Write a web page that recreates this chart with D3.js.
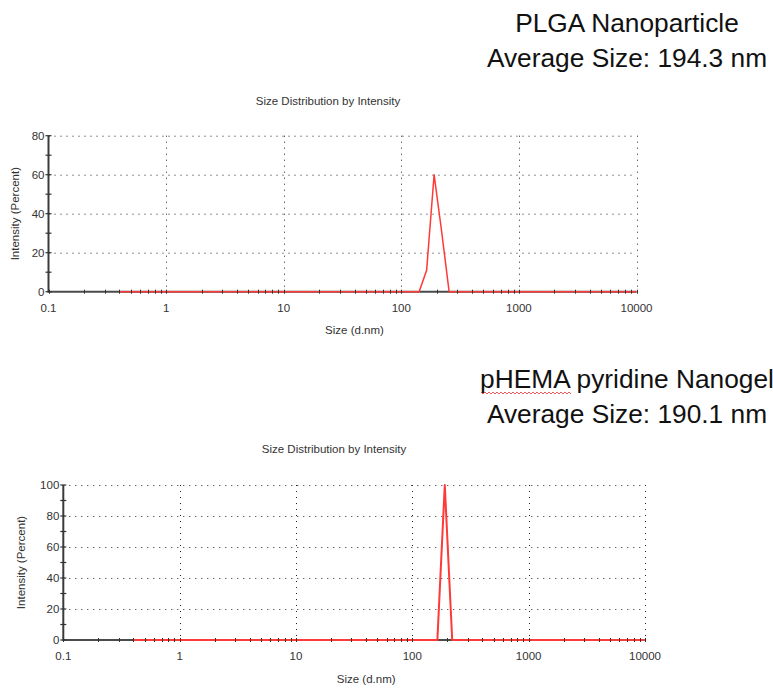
<!DOCTYPE html>
<html>
<head>
<meta charset="utf-8">
<script src="https://cdn.jsdelivr.net/npm/d3@7"></script>
<style>
  html, body { margin: 0; padding: 0; background: #fff; }
  svg { display: block; font-family: "Liberation Sans", Arial, sans-serif; }
</style>
</head>
<body>
<svg id="chart" width="773" height="688"></svg>
<script>
// ---- data ----
const xTickValues = [0.1, 1, 10, 100, 1000, 10000];
const xTickLabels = ["0.1", "1", "10", "100", "1000", "10000"];

const topTitleLines = ["PLGA Nanoparticle", "Average Size: 194.3 nm"];
const topSizes = [0.4, 141.8, 164.2, 190.1, 220.2, 255.0, 10000];
const topIntensity = [0, 0, 11, 60, 31, 0, 0];
const topYTicks = [0, 20, 40, 60, 80];
const topYMinor = [10, 30, 50, 70];

const botTitleLines = ["pHEMA pyridine Nanogel", "Average Size: 190.1 nm"];
const botSizes = [0.4, 164.2, 190.1, 220.2, 10000];
const botIntensity = [0, 0, 100, 0, 0];
const botYTicks = [0, 20, 40, 60, 80, 100];
const botYMinor = [10, 30, 50, 70, 90];

const chartTitle = "Size Distribution by Intensity";
const xAxisLabel = "Size (d.nm)";
const yAxisLabel = "Intensity (Percent)";

// ---- drawing ----
const svg = d3.select("#chart");

function minorXTicks() {
  const out = [];
  for (let e = -1; e < 4; e++) {
    for (let m = 2; m <= 9; m++) out.push(m * Math.pow(10, e));
  }
  return out;
}

function drawChart(cfg) {
  const g = svg.append("g");
  const x = d3.scaleLog().domain([0.1, 10000]).range([cfg.x0, cfg.x1]);
  const y = d3.scaleLinear().domain([0, cfg.yMax]).range([cfg.y0, cfg.y1]);

  // dotted grid lines
  g.selectAll("line.hgrid").data(cfg.yTicks.filter(d => d > 0)).enter().append("line")
    .attr("x1", cfg.x0).attr("x2", cfg.x1)
    .attr("y1", d => y(d) + 0.5).attr("y2", d => y(d) + 0.5)
    .attr("stroke", "#222").attr("stroke-width", 1)
    .attr("stroke-dasharray", "1,5");
  g.selectAll("line.vgrid").data(xTickValues.filter(d => d > 0.1)).enter().append("line")
    .attr("x1", d => Math.round(x(d)) + 0.5).attr("x2", d => Math.round(x(d)) + 0.5)
    .attr("y1", cfg.y1).attr("y2", cfg.y0)
    .attr("stroke", "#222").attr("stroke-width", 1)
    .attr("stroke-dasharray", "1,5");

  // axis lines
  g.append("line").attr("x1", cfg.x0).attr("x2", cfg.x1).attr("y1", cfg.y0).attr("y2", cfg.y0)
    .attr("stroke", "#4a4a4a").attr("stroke-width", 2);
  g.append("line").attr("x1", cfg.x0).attr("x2", cfg.x0).attr("y1", cfg.y0 + 1).attr("y2", cfg.y1)
    .attr("stroke", "#3a3a3a").attr("stroke-width", 2);

  // y ticks (major + minor)
  g.selectAll("line.ytick").data(cfg.yTicks.concat(cfg.yMinor)).enter().append("line")
    .attr("x1", cfg.x0 - 3).attr("x2", cfg.x0 + 3)
    .attr("y1", d => y(d)).attr("y2", d => y(d))
    .attr("stroke", "#333").attr("stroke-width", 1.2);
  g.selectAll("text.ylab").data(cfg.yTicks).enter().append("text")
    .attr("x", cfg.x0 - 4).attr("y", d => y(d) + 4)
    .attr("text-anchor", "end").attr("font-size", 11.5).attr("fill", "#333")
    .text(d => d);

  // x tick labels
  g.selectAll("text.xlab").data(xTickValues).enter().append("text")
    .attr("x", d => x(d)).attr("y", cfg.y0 + 20)
    .attr("text-anchor", "middle").attr("font-size", 11.5).attr("fill", "#333")
    .text((d, i) => xTickLabels[i]);

  // data line
  const pts = cfg.sizes.map((s, i) => [s, cfg.values[i]]);
  g.append("path").datum(pts)
    .attr("d", d3.line().x(d => x(d[0])).y(d => y(d[1])))
    .attr("fill", "none").attr("stroke", "#ff3838").attr("stroke-width", cfg.lineW)
    .attr("stroke-linejoin", "round");

  // x ticks (drawn over line)
  g.selectAll("line.xtick").data(xTickValues.concat(minorXTicks())).enter().append("line")
    .attr("x1", d => Math.round(x(d)) + 0.5).attr("x2", d => Math.round(x(d)) + 0.5)
    .attr("y1", cfg.y0 - 2).attr("y2", cfg.y0 + 2)
    .attr("stroke", "#333").attr("stroke-width", 1);

  // titles and axis labels
  g.append("text").attr("x", cfg.titleX).attr("y", cfg.titleY)
    .attr("text-anchor", "middle").attr("font-size", 11.5).attr("fill", "#333")
    .text(chartTitle);
  g.append("text").attr("x", (cfg.x0 + cfg.x1) / 2 + 12).attr("y", cfg.xlabY)
    .attr("text-anchor", "middle").attr("font-size", 11.5).attr("fill", "#333")
    .text(xAxisLabel);
  g.append("text")
    .attr("transform", `translate(${cfg.ylabX},${(cfg.y0 + cfg.y1) / 2}) rotate(-90)`)
    .attr("text-anchor", "middle").attr("font-size", 11.5).attr("fill", "#333")
    .text(yAxisLabel);

  // big heading
  cfg.heading.forEach((t, i) => {
    svg.append("text").attr("x", 627).attr("y", cfg.headY[i])
      .attr("text-anchor", "middle").attr("font-size", 26.3).attr("fill", "#111")
      .text(t);
  });
}

drawChart({
  x0: 48.5, x1: 636.5, y0: 291.7, y1: 135.7, yMax: 80,
  yTicks: topYTicks, yMinor: topYMinor,
  sizes: topSizes, values: topIntensity, lineW: 1.5,
  titleX: 328, titleY: 105, xlabY: 334, ylabX: 19,
  heading: topTitleLines, headY: [32, 67]
});

drawChart({
  x0: 63.3, x1: 645, y0: 640, y1: 485, yMax: 100,
  yTicks: botYTicks, yMinor: botYMinor,
  sizes: botSizes, values: botIntensity, lineW: 2,
  titleX: 334, titleY: 453, xlabY: 683, ylabX: 25,
  heading: botTitleLines, headY: [388, 423]
});

// spell-check squiggle under "pHEMA"
(function () {
  let d = "M481,392";
  for (let xx = 481, k = 0; xx < 570; xx += 2, k++) {
    d += ` L${xx + 2},${k % 2 ? 392 : 394}`;
  }
  svg.append("path").attr("d", d).attr("fill", "none")
    .attr("stroke", "#e03030").attr("stroke-width", 0.8);
})();
</script>
</body>
</html>
